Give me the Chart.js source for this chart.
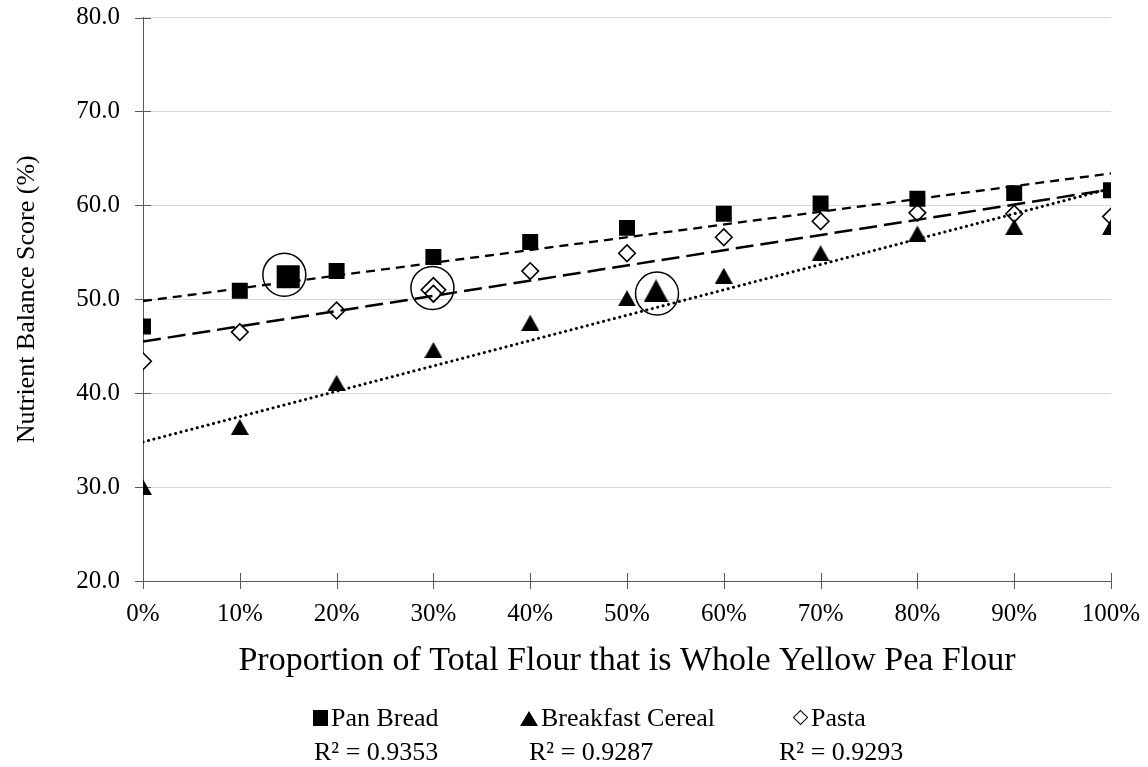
<!DOCTYPE html>
<html>
<head>
<meta charset="utf-8">
<script src="https://cdn.jsdelivr.net/npm/chart.js@4/dist/chart.umd.min.js"></script>
<style>
  html, body { margin: 0; padding: 0; background: #fff; }
  #wrap { position: relative; width: 1148px; height: 767px; }
  #legend { position: absolute; left: 0; top: 0; width: 1148px; height: 767px; pointer-events: none;
    font-family: "Liberation Serif", "Times New Roman", serif; font-size: 26px; color: #000; }
  #legend .txt { position: absolute; white-space: nowrap; line-height: 30px; height: 30px; }
  #legend .mk { position: absolute; }
  .sq { width: 15px; height: 16px; background: #000; }
  .tri { width: 0; height: 0; border-left: 9px solid transparent; border-right: 9px solid transparent; border-bottom: 15px solid #000; }
  .dia { width: 9px; height: 9px; border: 1.5px solid #000; transform: rotate(45deg); background: #fff; }
</style>
</head>
<body>
<div id="wrap">
  <canvas id="chart" width="1148" height="767"></canvas>
  <div id="legend">
    <div class="mk sq" style="left:313px; top:710px;"></div>
    <div class="txt" style="left:331px; top:703px;">Pan Bread</div>
    <div class="mk tri" style="left:520px; top:711px;"></div>
    <div class="txt" style="left:541px; top:703px;">Breakfast Cereal</div>
    <div class="mk dia" style="left:795px; top:712px;"></div>
    <div class="txt" style="left:811px; top:703px;">Pasta</div>
    <div class="txt" style="left:314px; top:737px;">R² = 0.9353</div>
    <div class="txt" style="left:529px; top:737px;">R² = 0.9287</div>
    <div class="txt" style="left:779px; top:737px;">R² = 0.9293</div>
  </div>
</div>
<script>
// 資料
const proportion = [0, 10, 20, 30, 40, 50, 60, 70, 80, 90, 100];
const panBread = [47.1, 50.9, 53.0, 54.5, 56.1, 57.6, 59.1, 60.2, 60.7, 61.3, 61.6];
const breakfastCereal = [30.0, 36.4, 41.1, 44.6, 47.5, 50.1, 52.5, 54.9, 57.0, 57.7, 57.7];
const pasta = [43.4, 46.5, 48.8, 50.6, 53.0, 54.9, 56.6, 58.3, 59.2, 59.1, 58.8];

// enlarged points and the rings drawn round them
const highlightX = [15, 30, 53];
const highlightY = [52.4, 51.0, 50.9];
const ringX = [14.6, 29.9, 53.1];
const ringY = [52.6, 51.2, 50.6];

// linear trend lines, value at 0% and at 100%
const trendX = [0, 100];
const panBreadTrend = [49.8, 63.4];
const cerealTrend = [34.8, 61.8];
const pastaTrend = [45.5, 61.7];

const serif = "'Liberation Serif', 'Times New Roman', serif";

function pts(xs, ys) {
  return xs.map((x, i) => ({ x: x, y: ys[i] }));
}

// triangle marker centred on its box, like the spreadsheet draws it
function triangleMark(w, h) {
  const c = document.createElement('canvas');
  c.width = w;
  c.height = h;
  const g = c.getContext('2d');
  g.fillStyle = '#000';
  g.beginPath();
  g.moveTo(w / 2, 0);
  g.lineTo(w, h);
  g.lineTo(0, h);
  g.closePath();
  g.fill();
  return c;
}

// tick marks that cross the axis lines
const crossTicks = {
  id: 'crossTicks',
  beforeDatasetsDraw(chart) {
    const ctx = chart.ctx;
    const area = chart.chartArea;
    const x = chart.scales.x;
    const y = chart.scales.y;
    ctx.save();
    ctx.strokeStyle = '#595959';
    ctx.lineWidth = 1;
    ctx.beginPath();
    y.ticks.forEach(t => {
      const py = Math.round(y.getPixelForValue(t.value)) + 0.5;
      ctx.moveTo(area.left - 8, py);
      ctx.lineTo(area.left + 8, py);
    });
    x.ticks.forEach(t => {
      const px = Math.round(x.getPixelForValue(t.value)) + 0.5;
      ctx.moveTo(px, area.bottom - 8);
      ctx.lineTo(px, area.bottom + 8);
    });
    ctx.stroke();
    ctx.restore();
  }
};

const ctx = document.getElementById('chart').getContext('2d');
const myChart = new Chart(ctx, {
  type: 'scatter',
  data: {
    datasets: [
      {
        label: 'Pan Bread trend',
        type: 'line',
        data: pts(trendX, panBreadTrend),
        borderColor: '#000',
        borderWidth: 2.3,
        borderDash: [9, 6],
        pointRadius: 0,
        fill: false,
        order: 0
      },
      {
        label: 'Breakfast Cereal trend',
        type: 'line',
        data: pts(trendX, cerealTrend),
        borderColor: '#000',
        borderWidth: 3,
        borderDash: [0.1, 5.5],
        borderCapStyle: 'round',
        pointRadius: 0,
        fill: false,
        order: 0
      },
      {
        label: 'Pasta trend',
        type: 'line',
        data: pts(trendX, pastaTrend),
        borderColor: '#000',
        borderWidth: 2.5,
        borderDash: [18, 7],
        pointRadius: 0,
        fill: false,
        order: 0
      },
      {
        label: 'Pan Bread',
        data: pts(proportion, panBread),
        pointStyle: 'rect',
        pointRadius: 11.3,
        backgroundColor: '#000',
        borderWidth: 0,
        order: 1
      },
      {
        label: 'Breakfast Cereal',
        data: pts(proportion, breakfastCereal),
        pointStyle: triangleMark(18, 16),
        backgroundColor: '#000',
        order: 1
      },
      {
        label: 'Pasta',
        data: pts(proportion, pasta),
        pointStyle: 'rectRot',
        pointRadius: 8.3,
        backgroundColor: '#fff',
        borderColor: '#000',
        borderWidth: 1.6,
        order: 1
      },
      {
        label: 'Highlighted Pan Bread',
        data: pts(highlightX.slice(0, 1), highlightY.slice(0, 1)),
        pointStyle: 'rect',
        pointRadius: 16.3,
        backgroundColor: '#000',
        borderWidth: 0,
        order: 1
      },
      {
        label: 'Highlighted Pasta',
        data: pts(highlightX.slice(1, 2), highlightY.slice(1, 2)),
        pointStyle: 'rectRot',
        pointRadius: 12.2,
        backgroundColor: 'rgba(255,255,255,0)',
        borderColor: '#000',
        borderWidth: 1.6,
        order: 1
      },
      {
        label: 'Highlighted Breakfast Cereal',
        data: pts(highlightX.slice(2, 3), highlightY.slice(2, 3)),
        pointStyle: triangleMark(25, 23),
        backgroundColor: '#000',
        order: 1
      },
      {
        label: 'Rings',
        data: pts(ringX, ringY),
        pointStyle: 'circle',
        pointRadius: 21.5,
        backgroundColor: 'rgba(255,255,255,0)',
        borderColor: '#000',
        borderWidth: 1.5,
        order: 2
      }
    ]
  },
  options: {
    responsive: false,
    animation: false,
    events: [],
    layout: {
      autoPadding: false,
      padding: { top: 17.5, right: 37, left: 0, bottom: 0 }
    },
    plugins: {
      legend: { display: false },
      tooltip: { enabled: false },
      title: { display: false }
    },
    scales: {
      x: {
        type: 'linear',
        min: 0,
        max: 100,
        afterFit: s => { s.height = 186; s.paddingLeft = 0; s.paddingRight = 0; },
        grid: { display: false },
        border: { display: true, color: '#595959', width: 1 },
        ticks: {
          stepSize: 10,
          maxRotation: 0,
          padding: 10,
          color: '#000',
          font: { family: serif, size: 25 },
          callback: v => v + '%'
        },
        title: {
          display: true,
          text: 'Proportion of Total Flour that is Whole Yellow Pea Flour',
          color: '#000',
          font: { family: serif, size: 34 },
          padding: { top: 0, bottom: 85.6 }
        }
      },
      y: {
        min: 20,
        max: 80,
        afterFit: s => { s.width = 143; s.paddingTop = 0; s.paddingBottom = 0; },
        grid: { color: '#d9d9d9', drawTicks: false },
        border: { display: true, color: '#595959', width: 1 },
        ticks: {
          stepSize: 10,
          padding: 23,
          color: '#000',
          font: { family: serif, size: 25 },
          callback: v => v.toFixed(1)
        },
        title: {
          display: true,
          text: 'Nutrient Balance Score (%)',
          color: '#000',
          font: { family: serif, size: 26 },
          padding: { top: 12, bottom: 0 }
        }
      }
    }
  },
  plugins: [crossTicks]
});
</script>
</body>
</html>
